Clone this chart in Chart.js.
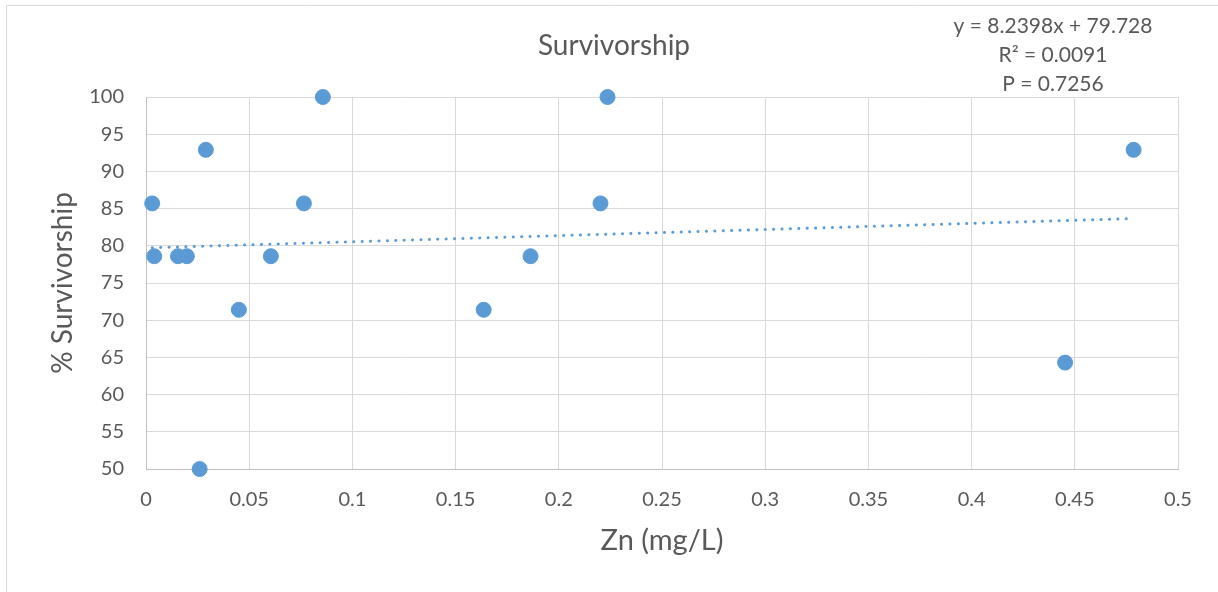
<!DOCTYPE html>
<html>
<head>
<meta charset="utf-8">
<script src="https://cdn.jsdelivr.net/npm/chart.js@4.4.1/dist/chart.umd.min.js"></script>
<style>
  html, body { margin: 0; padding: 0; background: #fff; }
  #wrap { width: 1218px; height: 592px; position: relative; }
</style>
</head>
<body>
<div id="wrap"><canvas id="chart"></canvas></div>
<script>
// Zn concentration (mg/L) and % survivorship per sample
const zinc = [0.003, 0.004, 0.0155, 0.0198, 0.026, 0.029, 0.045, 0.0605, 0.0765, 0.0857, 0.1636, 0.1863, 0.2202, 0.2236, 0.4453, 0.4785];
const survival = [85.7, 78.6, 78.6, 78.6, 50, 92.9, 71.4, 78.6, 85.7, 100, 71.4, 78.6, 85.7, 100, 64.3, 92.9];

// linear fit reported on the chart
const slope = 8.2398;
const intercept = 79.728;
const fitLines = ['y = 8.2398x + 79.728', 'R² = 0.0091', 'P = 0.7256'];

const xTicks = [0, 0.05, 0.1, 0.15, 0.2, 0.25, 0.3, 0.35, 0.4, 0.45, 0.5];
const yTicks = [50, 55, 60, 65, 70, 75, 80, 85, 90, 95, 100];

const FONT = 'Lato, "Open Sans", sans-serif';
const GREY = '#595959';
const BLUE = '#5b9bd5';

const points = zinc.map((x, i) => ({ x, y: survival[i] }));
const xMin = Math.min(...zinc);
const xMax = Math.max(...zinc);
const trend = [xMin, xMax].map((x) => ({ x, y: slope * x + intercept }));

// outer frame, title and fit statistics
const decorations = {
  id: 'decorations',
  beforeDraw(chart) {
    const ctx = chart.ctx;
    ctx.save();
    ctx.strokeStyle = '#d9d9d9';
    ctx.lineWidth = 1;
    ctx.beginPath();
    ctx.moveTo(6.5, 600);
    ctx.lineTo(6.5, 5.5);
    ctx.lineTo(1230, 5.5);
    ctx.stroke();
    ctx.restore();
  },
  afterDraw(chart) {
    const ctx = chart.ctx;
    ctx.save();
    ctx.fillStyle = GREY;
    ctx.textAlign = 'center';
    ctx.textBaseline = 'middle';
    ctx.font = '28px ' + FONT;
    ctx.fillText('Survivorship', 614, 46);
    ctx.font = '21px ' + FONT;
    fitLines.forEach((t, i) => ctx.fillText(t, 1053, 26 + i * 29));
    ctx.restore();
  },
};

new Chart(document.getElementById('chart'), {
  type: 'scatter',
  data: {
    datasets: [
      {
        label: 'Survivorship',
        data: points,
        backgroundColor: BLUE,
        borderColor: BLUE,
        pointRadius: 7.5,
        pointHoverRadius: 7.5,
        clip: false,
        order: 1,
      },
      {
        type: 'line',
        label: 'Linear fit',
        data: trend,
        borderColor: BLUE,
        borderWidth: 3,
        borderDash: [0.1, 8.3],
        borderCapStyle: 'round',
        pointRadius: 0,
        fill: false,
        order: 2,
      },
    ],
  },
  options: {
    responsive: true,
    maintainAspectRatio: false,
    animation: false,
    layout: { padding: { top: 97, right: 40, left: 40, bottom: 30 } },
    plugins: { legend: { display: false }, tooltip: { enabled: false } },
    scales: {
      x: {
        type: 'linear',
        min: 0,
        max: 0.5,
        afterBuildTicks: (s) => { s.ticks = xTicks.map((v) => ({ value: v })); },
        afterFit: (s) => { s.height = 93; },
        grid: { color: '#d9d9d9', lineWidth: 1, drawTicks: false },
        border: { color: '#bfbfbf' },
        ticks: { color: GREY, font: { family: FONT, size: 20 }, padding: 19, callback: (v) => String(v) },
        title: { display: true, text: 'Zn (mg/L)', color: GREY, font: { family: FONT, size: 29 }, padding: { top: 2 } },
      },
      y: {
        min: 50,
        max: 100,
        afterBuildTicks: (s) => { s.ticks = yTicks.map((v) => ({ value: v })); },
        afterFit: (s) => { s.width = 106; },
        grid: { color: '#d9d9d9', lineWidth: 1, drawTicks: false },
        border: { color: '#bfbfbf' },
        ticks: { color: GREY, font: { family: FONT, size: 20 }, padding: 22 },
        title: { display: true, text: '% Survivorship', color: GREY, font: { family: FONT, size: 28 }, padding: { top: 6, bottom: 0 } },
      },
    },
  },
  plugins: [decorations],
});
</script>
</body>
</html>
